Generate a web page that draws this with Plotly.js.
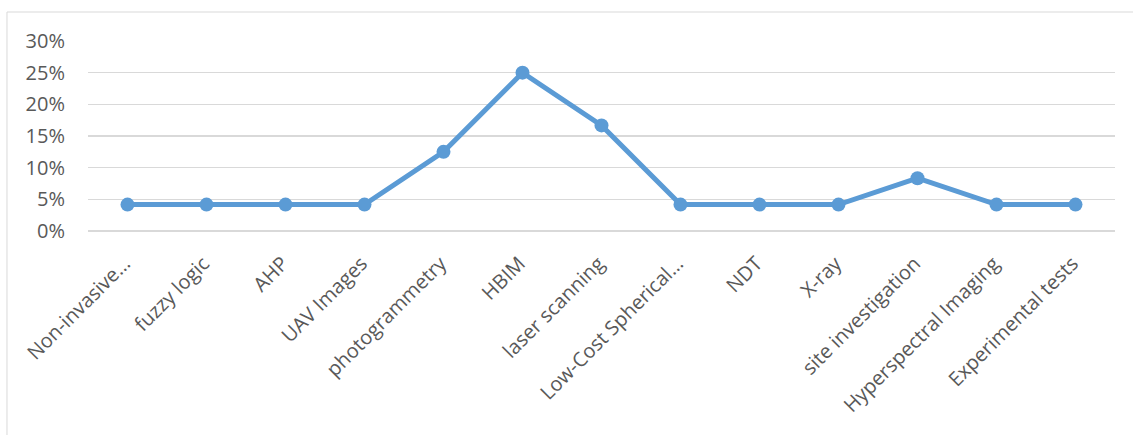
<!DOCTYPE html>
<html>
<head>
<meta charset="utf-8">
<script src="https://cdn.plot.ly/plotly-3.0.1.min.js"></script>
<style>
html,body{margin:0;padding:0;background:#fff;}
#chart{width:1133px;height:435px;}
</style>
</head>
<body>
<div id="chart"></div>
<script>
const categories = [
  "Non-invasive…", "fuzzy logic", "AHP", "UAV Images", "photogrammetry",
  "HBIM", "laser scanning", "Low-Cost Spherical…", "NDT", "X-ray",
  "site investigation", "Hyperspectral Imaging", "Experimental tests"
];
const shares = [
  0.0417, 0.0417, 0.0417, 0.0417, 0.125,
  0.25, 0.1667, 0.0417, 0.0417, 0.0417,
  0.0833, 0.0417, 0.0417
];
const yTicks = [0, 0.05, 0.10, 0.15, 0.20, 0.25, 0.30];

const trace = {
  x: categories,
  y: shares,
  type: "scatter",
  mode: "lines+markers",
  line: {color: "#5B9BD5", width: 5},
  marker: {color: "#5B9BD5", size: 14},
  hoverinfo: "x+y"
};

const layout = {
  width: 1133,
  height: 435,
  margin: {l: 88, r: 18, t: 41, b: 204},
  paper_bgcolor: "#fff",
  plot_bgcolor: "#fff",
  showlegend: false,
  font: {family: "Open Sans, sans-serif", size: 20, color: "#595959"},
  xaxis: {
    type: "category",
    tickangle: -45,
    showgrid: false,
    showline: false,
    zeroline: false,
    ticks: "",
    ticklabelstandoff: 16,
    ticklabelshift: -3,
    tickfont: {family: "Open Sans, sans-serif", size: 20, color: "#595959"},
    range: [-0.5, categories.length - 0.5]
  },
  yaxis: {
    range: [0, 0.30],
    tickvals: yTicks,
    tickformat: ".0%",
    showgrid: true,
    gridcolor: "#D9D9D9",
    gridwidth: 1.5,
    zeroline: true,
    zerolinecolor: "#D9D9D9",
    zerolinewidth: 1.5,
    showline: false,
    ticks: "",
    ticklabelstandoff: 22,
    tickfont: {family: "Open Sans, sans-serif", size: 20, color: "#595959"}
  },
  shapes: [
    {type: "line", xref: "paper", yref: "paper", x0: -0.0789, x1: 1.2, y0: 1.1526, y1: 1.1526,
     line: {color: "#D9D9D9", width: 1}},
    {type: "line", xref: "paper", yref: "paper", x0: -0.0789, x1: -0.0789, y0: 1.1526, y1: -2,
     line: {color: "#D9D9D9", width: 1}}
  ]
};

Plotly.newPlot("chart", [trace], layout, {displayModeBar: false, staticPlot: true});
</script>
</body>
</html>
